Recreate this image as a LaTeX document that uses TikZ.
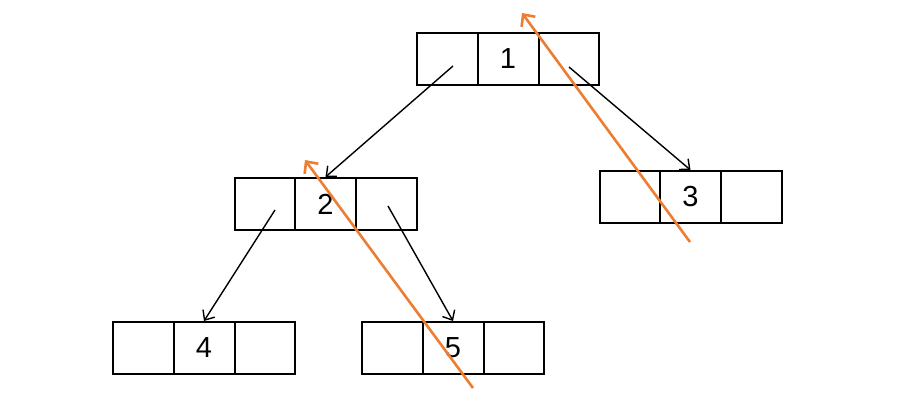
\documentclass[tikz,border=0pt]{standalone}
\usepackage{fontspec}
\setmainfont{Liberation Sans}
\usetikzlibrary{arrows.meta}
\definecolor{orng}{HTML}{ED7D31}
\begin{document}
\begin{tikzpicture}[x=1pt,y=-1pt,
  treenode/.style={draw,line width=2pt,minimum width=182pt,minimum height=52pt,inner sep=0pt,font=\fontsize{29}{29}\selectfont},
  divider/.style={line width=2pt},
  link/.style={line width=1.4pt,-{Straight Barb[length=8pt,width=14pt,line width=1.4pt]}},
  walk/.style={draw=orng,line width=2.6pt,-{Straight Barb[length=9pt,width=17pt,line width=2.6pt]}}]
\useasboundingbox (0,0) rectangle (916,415);
\node[treenode] (n1) at (508,59) {1};
\node[treenode] (n2) at (325.5,204) {2};
\node[treenode] (n3) at (690.5,197) {3};
\node[treenode] (n4) at (204,348) {4};
\node[treenode] (n5) at (453,348) {5};
\foreach \n in {n1,n2,n3,n4,n5}{
  \draw[divider] ([xshift=-30.5pt]\n.north) -- ([xshift=-30.5pt]\n.south);
  \draw[divider] ([xshift=30.5pt]\n.north) -- ([xshift=30.5pt]\n.south);
}
\coordinate (n1L) at (453,66);
\coordinate (n1R) at (569,67);
\coordinate (n2L) at (275,210);
\coordinate (n2R) at (388,206);
\draw[link] (n1L) -- (n2.north);
\draw[link] (n1R) -- (n3.north);
\draw[link] (n2L) -- (n4.north);
\draw[link] (n2R) -- (n5.north);
\coordinate (o1s) at (690,242);
\coordinate (o1e) at (522,13);
\coordinate (o2s) at (473,388);
\coordinate (o2e) at (305,160);
\draw[walk] (o1s) -- (o1e);
\draw[walk] (o2s) -- (o2e);
\end{tikzpicture}
\end{document}
